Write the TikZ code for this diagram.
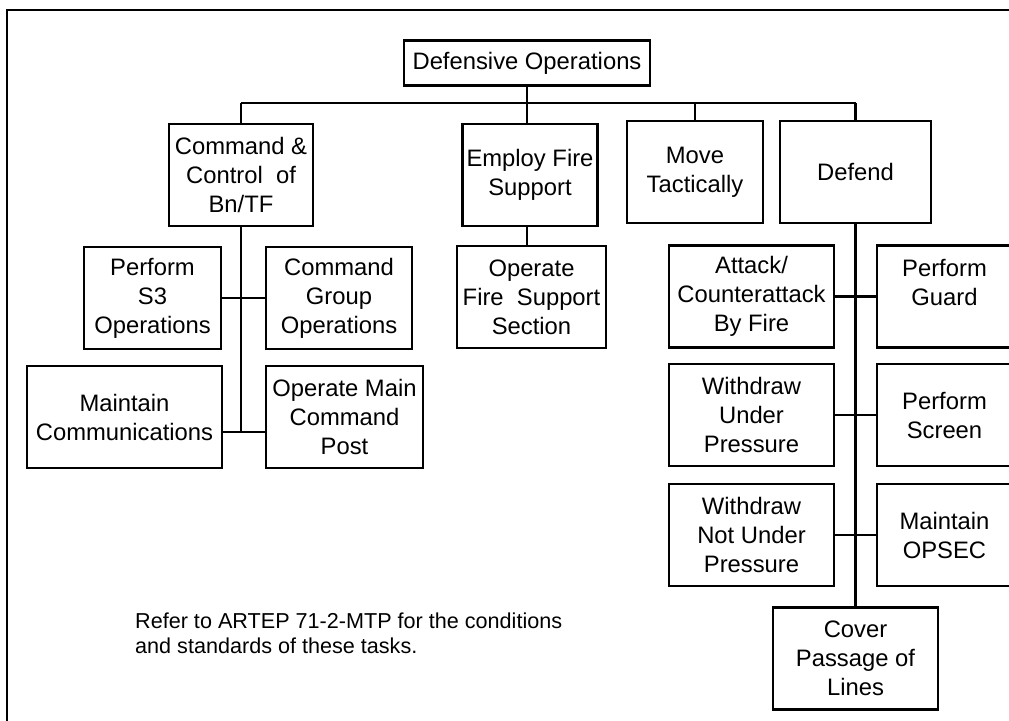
\documentclass[tikz,border=0pt]{standalone}
\usepackage{fontspec}
\setmainfont{Liberation Sans}
\usetikzlibrary{positioning}

\tikzset{
  task/.style={draw, line width=2.4pt, align=center, inner sep=0pt,
    minimum height=102pt, font=\fontsize{23.8}{29}\selectfont},
  link/.style={line width=2.4pt},
}

\begin{document}
\begin{tikzpicture}[x=1pt, y=-1pt]

  % page and frame
  \useasboundingbox (0,0) rectangle (1009,720);
  \clip (0,0) rectangle (1009,720);
  \draw[line width=2.4pt] (7,10) rectangle (1030,740);

  % top
  \node[task, minimum width=246pt, minimum height=45pt] (root) at (527,63) {Defensive Operations};
  \coordinate (bus) at (527,103);

  % first level
  \node[task, minimum width=144pt] (cc)  at (241,175)   {Command \&\\Control~ of\\Bn/TF};
  \node[task, minimum width=135pt] (efs) at (530,175)   {Employ Fire\\Support};
  \node[task, minimum width=136pt] (mt)  at (695,172)   {Move\\Tactically};
  \node[task, minimum width=151pt] (def) at (855.5,172) {Defend};

  % under command and control
  \node[task, minimum width=137pt] (s3)   at (152.5,298) {Perform\\S3\\Operations};
  \node[task, minimum width=146pt] (cgo)  at (339,298)   {Command\\Group\\Operations};
  \node[task, minimum width=195pt] (mc)   at (124.5,417) {Maintain\\Communications};
  \node[task, minimum width=157pt] (omcp) at (344.5,417) {Operate Main\\Command\\Post};

  % under fire support
  \node[task, minimum width=149pt] (ofss) at (531.5,297) {Operate\\Fire~ Support\\Section};

  % under defend
  \node[task, minimum width=165pt] (acf)  at (751.5,296.5) {Attack/\\Counterattack\\By Fire};
  \node[task, minimum width=135pt] (pg)   at (944.5,296.5) {Perform\\Guard\\~};
  \node[task, minimum width=165pt] (wup)  at (751.5,415)   {Withdraw\\Under\\Pressure};
  \node[task, minimum width=135pt] (ps)   at (944.5,415)   {Perform\\Screen};
  \node[task, minimum width=165pt] (wnup) at (751.5,535)   {Withdraw\\Not Under\\Pressure};
  \node[task, minimum width=135pt] (ops)  at (944.5,535)   {Maintain\\OPSEC};
  \node[task, minimum width=165pt] (cpl)  at (855.5,658.5) {Cover\\Passage of\\Lines};

  % note
  \node[align=left, anchor=north west, inner sep=0pt, font=\fontsize{21.6}{25}\selectfont] (note) at (135,613)
    {Refer to ARTEP 71-2-MTP for the conditions\\and standards of these tasks.};

  % connectors
  \draw[link] (root.south) -- (efs.north -| root.south);
  \draw[link] (cc.north |- bus) -- (def.north |- bus);
  \foreach \n in {cc,mt,def}
    \draw[link] (\n.north) -- (\n.north |- bus);

  \coordinate (mcjoin) at ([yshift=-15pt]mc.east);
  \draw[link] (cc.south) -- (cc.south |- mcjoin);
  \draw[link] (s3.east) -- (cgo.west);
  \draw[link] (mcjoin) -- (mcjoin -| omcp.west);

  \draw[link] (efs.south -| root.south) -- (ofss.north -| root.south);

  \draw[link] (def.south) -- (cpl.north);
  \draw[link] (acf.east) -- (pg.west);
  \draw[link] (wup.east) -- (ps.west);
  \draw[link] (wnup.east) -- (ops.west);

\end{tikzpicture}
\end{document}
